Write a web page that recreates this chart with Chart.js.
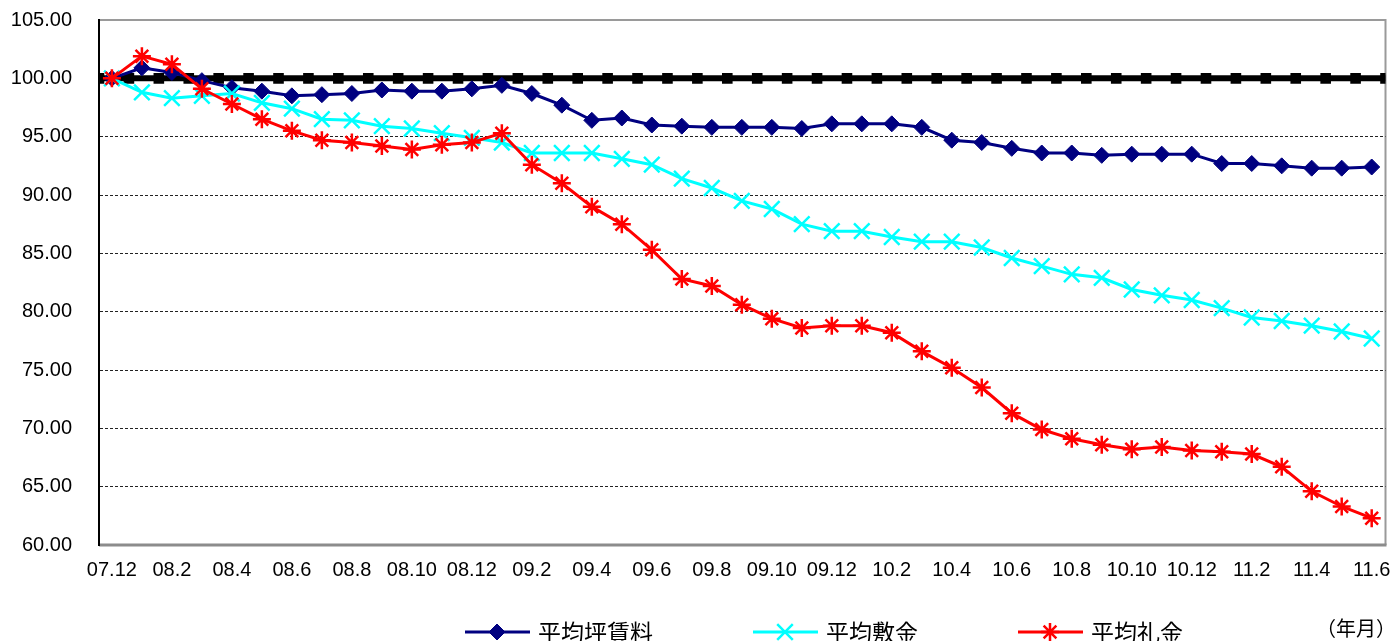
<!DOCTYPE html>
<html>
<head>
<meta charset="utf-8">
<script src="https://cdn.jsdelivr.net/npm/chart.js@4.4.1/dist/chart.umd.min.js"></script>
<style>
  body { margin: 0; background: #fff; }
  .wrap { width: 1399px; height: 641px; position: relative; }
</style>
</head>
<body>
<div class="wrap"><canvas class="myChart"></canvas></div>
<script>
const months = [
  "07.12",
  "08.1", "08.2", "08.3", "08.4", "08.5", "08.6", "08.7", "08.8", "08.9", "08.10", "08.11", "08.12",
  "09.1", "09.2", "09.3", "09.4", "09.5", "09.6", "09.7", "09.8", "09.9", "09.10", "09.11", "09.12",
  "10.1", "10.2", "10.3", "10.4", "10.5", "10.6", "10.7", "10.8", "10.9", "10.10", "10.11", "10.12",
  "11.1", "11.2", "11.3", "11.4", "11.5", "11.6"
];

// 平均坪賃料
const rent = [
  100.0,
  100.9, 100.5, 99.8, 99.2, 98.9, 98.5, 98.6, 98.7, 99.0, 98.9, 98.9, 99.1,
  99.4, 98.7, 97.7, 96.4, 96.6, 96.0, 95.9, 95.8, 95.8, 95.8, 95.7, 96.1,
  96.1, 96.1, 95.8, 94.7, 94.5, 94.0, 93.6, 93.6, 93.4, 93.5, 93.5, 93.5,
  92.7, 92.7, 92.5, 92.3, 92.3, 92.4
];

// 平均敷金
const deposit = [
  100.0,
  98.8, 98.3, 98.5, 98.7, 97.9, 97.4, 96.5, 96.4, 95.9, 95.7, 95.3, 94.9,
  94.5, 93.6, 93.6, 93.6, 93.1, 92.6, 91.4, 90.6, 89.5, 88.8, 87.5, 86.9,
  86.9, 86.4, 86.0, 86.0, 85.5, 84.6, 83.9, 83.2, 82.9, 81.9, 81.4, 81.0,
  80.3, 79.5, 79.2, 78.8, 78.3, 77.7
];

// 平均礼金
const keyMoney = [
  100.0,
  101.9, 101.2, 99.1, 97.8, 96.5, 95.5, 94.7, 94.5, 94.2, 93.9, 94.3, 94.5,
  95.3, 92.6, 91.0, 89.0, 87.5, 85.3, 82.8, 82.2, 80.6, 79.4, 78.6, 78.8,
  78.8, 78.2, 76.6, 75.2, 73.5, 71.3, 69.9, 69.1, 68.6, 68.2, 68.4, 68.1,
  68.0, 67.8, 66.7, 64.6, 63.3, 62.3
];

// 基準線 (100)
const baseline = [
  100, 100, 100, 100, 100, 100, 100, 100, 100, 100, 100,
  100, 100, 100, 100, 100, 100, 100, 100, 100, 100, 100,
  100, 100, 100, 100, 100, 100, 100, 100, 100, 100, 100,
  100, 100, 100, 100, 100, 100, 100, 100, 100, 100, 100
];

const yTicks = [60, 65, 70, 75, 80, 85, 90, 95, 100, 105];
const seriesNames = ["平均坪賃料", "平均敷金", "平均礼金"];
const unitLabel = "（年月）";

const toPoints = (arr) => arr.map((v, i) => ({ x: i, y: v }));

const tickFont = { family: "'Liberation Sans', Arial, sans-serif", size: 20 };

// frame around the plot area
const framePlugin = {
  id: "frame",
  beforeDraw(chart) {
    const { ctx, chartArea: a } = chart;
    ctx.save();
    ctx.strokeStyle = "#9a9a9a";
    ctx.lineWidth = 2;
    ctx.beginPath();
    ctx.moveTo(a.left, a.top);
    ctx.lineTo(a.right, a.top);
    ctx.lineTo(a.right, a.bottom);
    ctx.stroke();
    ctx.lineWidth = 3;
    ctx.strokeStyle = "#8c8c8c";
    ctx.beginPath();
    ctx.moveTo(a.left, a.bottom);
    ctx.lineTo(a.right + 1, a.bottom);
    ctx.stroke();
    ctx.restore();
  },
};

// legend drawn as line + marker, like the original
const legendPlugin = {
  id: "lineLegend",
  afterDraw(chart) {
    const ctx = chart.ctx;
    const y = 632;
    let x = 465;
    ctx.save();
    ctx.font = "23px 'Noto Sans CJK JP', sans-serif";
    ctx.textBaseline = "middle";
    ctx.textAlign = "left";
    seriesNames.forEach((name) => {
      const ds = chart.data.datasets.find((d) => d.label === name);
      ctx.strokeStyle = ds.borderColor;
      ctx.lineWidth = 3;
      ctx.beginPath();
      ctx.moveTo(x, y);
      ctx.lineTo(x + 65, y);
      ctx.stroke();
      ctx.fillStyle = ds.pointBackgroundColor;
      ctx.strokeStyle = ds.pointBorderColor;
      ctx.lineWidth = ds.pointBorderWidth;
      Chart.helpers.drawPoint(ctx, {
        pointStyle: ds.pointStyle,
        radius: ds.pointRadius,
        rotation: 0,
        borderWidth: ds.pointBorderWidth,
      }, x + 32, y);
      ctx.fillStyle = "#000";
      ctx.fillText(name, x + 73, y);
      x += 73 + ctx.measureText(name).width + 100;
    });
    ctx.font = "20px 'Noto Sans CJK JP', sans-serif";
    ctx.fillText(unitLabel, 1316, 628);
    ctx.restore();
  },
};

const ctx = document.querySelector(".myChart").getContext("2d");
const myChart = new Chart(ctx, {
  type: "line",
  data: {
    datasets: [
      {
        label: seriesNames[2],
        data: toPoints(keyMoney),
        borderColor: "#ff0000",
        backgroundColor: "#ff0000",
        pointBackgroundColor: "#ff0000",
        pointBorderColor: "#ff0000",
        borderWidth: 3,
        pointStyle: "star",
        pointRadius: 9,
        pointBorderWidth: 2.5,
        order: 1,
      },
      {
        label: seriesNames[1],
        data: toPoints(deposit),
        borderColor: "#00ffff",
        backgroundColor: "#00ffff",
        pointBackgroundColor: "#00ffff",
        pointBorderColor: "#00ffff",
        borderWidth: 3,
        pointStyle: "crossRot",
        pointRadius: 11,
        pointBorderWidth: 2.5,
        order: 2,
      },
      {
        label: seriesNames[0],
        data: toPoints(rent),
        borderColor: "#000080",
        backgroundColor: "#000080",
        pointBackgroundColor: "#000080",
        pointBorderColor: "#000080",
        borderWidth: 3,
        pointStyle: "rectRot",
        pointRadius: 8,
        pointBorderWidth: 1,
        order: 3,
      },
      {
        label: "base",
        data: toPoints(baseline),
        xAxisID: "x2",
        borderColor: "#000",
        backgroundColor: "#000",
        pointBackgroundColor: "#000",
        pointBorderColor: "#000",
        borderWidth: 6,
        pointStyle: "rect",
        pointRadius: 7.5,
        pointBorderWidth: 0,
        order: 4,
      },
    ],
  },
  options: {
    responsive: true,
    maintainAspectRatio: false,
    animation: false,
    events: [],
    layout: { padding: { top: 20, right: 7, left: 0, bottom: 0 } },
    elements: { line: { tension: 0 } },
    plugins: {
      legend: { display: false },
      tooltip: { enabled: false },
    },
    scales: {
      x: {
        type: "linear",
        min: -0.43,
        max: 42.46,
        grid: { display: false, drawTicks: false },
        border: { display: false },
        afterFit: (scale) => {
          scale.height = 96;
          scale.paddingLeft = 0;
          scale.paddingRight = 0;
        },
        ticks: {
          stepSize: 2,
          includeBounds: false,
          autoSkip: false,
          maxRotation: 0,
          padding: 13,
          color: "#000",
          font: tickFont,
          callback: (v) => (Number.isInteger(v) && v % 2 === 0 ? months[v] : ""),
        },
      },
      x2: {
        type: "linear",
        min: 0,
        max: 43,
        display: false,
      },
      y: {
        min: yTicks[0],
        max: yTicks[yTicks.length - 1],
        afterFit: (scale) => {
          scale.width = 99;
          scale.paddingTop = 0;
          scale.paddingBottom = 0;
        },
        afterBuildTicks: (scale) => { scale.ticks = yTicks.map((v) => ({ value: v })); },
        grid: {
          drawTicks: false,
          lineWidth: 1,
          color: (c) => (c.tick && c.tick.value > 60 && c.tick.value < 100 ? "#222" : "rgba(0,0,0,0)"),
        },
        border: { display: true, color: "#000", width: 2, dash: [3, 2] },
        ticks: {
          padding: 27,
          color: "#000",
          font: tickFont,
          callback: (v) => Number(v).toFixed(2),
        },
      },
    },
  },
  plugins: [framePlugin, legendPlugin],
});
</script>
</body>
</html>
